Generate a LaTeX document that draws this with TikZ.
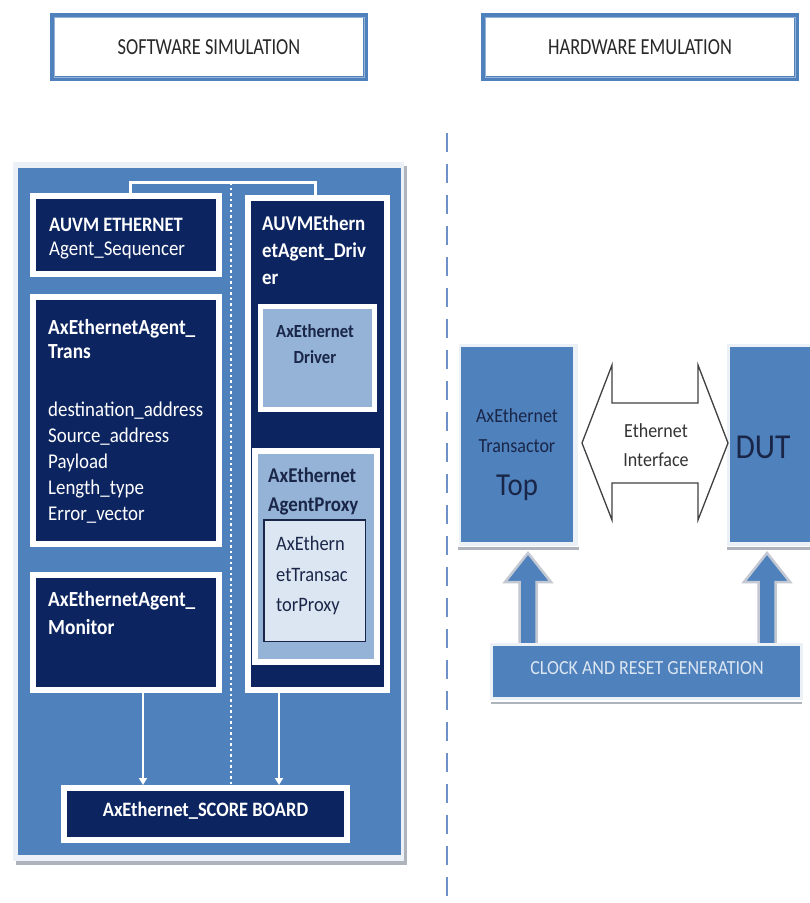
\documentclass[tikz,border=0pt]{standalone}
\usepackage{fontspec}
\setmainfont{Carlito}[FakeStretch=0.9]
\newfontfamily\condfont{Carlito}[FakeStretch=0.8]
\usetikzlibrary{arrows.meta}
\definecolor{pblue}{RGB}{79,129,189}
\definecolor{navy}{RGB}{12,36,96}
\definecolor{lblue}{RGB}{149,179,215}
\definecolor{vlblue}{RGB}{220,230,242}
\definecolor{dtext}{RGB}{25,38,72}
\definecolor{dashc}{RGB}{110,145,200}
\definecolor{shadowc}{RGB}{175,180,188}
\definecolor{tgrey}{RGB}{40,40,40}
\definecolor{frame}{RGB}{236,241,248}
\definecolor{arrline}{RGB}{195,200,210}
\newcommand\fsz[1]{\fontsize{#1}{#1}\selectfont}
\begin{document}
\begin{tikzpicture}[x=1pt,y=-1pt,
  titlebox/.style={draw=pblue, line width=5pt, fill=white, inner sep=0pt, minimum width=313pt, minimum height=63pt},
  navybox/.style={fill=navy, draw=white, line width=6pt, inner sep=0pt},
  lightbox/.style={fill=lblue, draw=white, line width=5pt, inner sep=0pt},
  bluebox/.style={fill=pblue, inner sep=0pt},
  wl/.style={inner sep=0pt, anchor=base west, text=white, font=\fsz{21}},
  wb/.style={inner sep=0pt, anchor=base west, text=white, font=\bfseries\fsz{21.5}},
  dl/.style={inner sep=0pt, anchor=base, text=dtext, font=\fsz{20}},
  blockarr/.style={fill=pblue, draw=arrline, line width=2.5pt, line join=miter},
  wire/.style={white, line width=2pt}
]
\useasboundingbox (0,0) rectangle (810,903);
\fill[white] (0,0) rectangle (810,903);

% titles
\node[titlebox] (swt) at (209,47) {};
\draw[lblue, line width=1pt] ([shift={(4,4)}]swt.north west) rectangle ([shift={(-4,-4)}]swt.south east);
\node[inner sep=0pt, text=tgrey, font=\condfont\fsz{23}] (swtxt) at (swt.center) {SOFTWARE SIMULATION};
\node[titlebox] (hwt) at (640,47) {};
\draw[lblue, line width=1pt] ([shift={(4,4)}]hwt.north west) rectangle ([shift={(-4,-4)}]hwt.south east);
\node[inner sep=0pt, text=tgrey, font=\condfont\fsz{23}] (hwtxt) at (hwt.center) {HARDWARE EMULATION};

% divider
\coordinate (dv1) at (447,133);
\coordinate (dv2) at (447,897);
\draw[dashc, line width=2pt, dash pattern=on 19pt off 12pt] (dv1) -- (dv2);

% left panel
\fill[shadowc] (16,166) rectangle (407,865);
\fill[frame] (13,162) rectangle (404,861);
\node[bluebox, minimum width=383pt, minimum height=687pt] (panel) at (209.5,511.5) {};

\node[navybox, minimum width=186pt, minimum height=78pt] (seq) at (125.5,235) {};
\node[navybox, minimum width=186pt, minimum height=247pt] (trans) at (125.5,420.5) {};
\node[navybox, minimum width=186pt, minimum height=115pt] (mon) at (125.5,632.5) {};
\node[navybox, minimum width=139pt, minimum height=492pt] (drv) at (317.5,444) {};
\node[lightbox, minimum width=114pt, minimum height=103pt] (drvin) at (317.5,358) {};
\node[lightbox, line width=6pt, minimum width=122pt, minimum height=211pt] (proxy) at (316,556.5) {};
\node[fill=vlblue, draw=dtext, line width=1.5pt, inner sep=0pt, minimum width=101.5pt, minimum height=121.5pt] (tproxy) at (314.5,580.5) {};
\node[navybox, minimum width=283pt, minimum height=52pt] (sb) at (205.5,814) {};

% bracket, dotted line, arrows
\coordinate (bl) at (130,182);
\coordinate (br) at (315,182);
\draw[white, line width=3pt] (seq.north -| bl) -- (bl) -- (br) -- (drv.north -| br);
\coordinate (dt) at (231,182);
\draw[white, line width=2.5pt, dash pattern=on 2.5pt off 3pt] (dt) -- (dt |- sb.north);
\coordinate (m1) at (143,700);
\coordinate (m2) at (279,700);
\draw[wire, -{Triangle[width=8pt,length=7pt]}] (mon.south -| m1) -- (sb.north -| m1);
\draw[wire, -{Triangle[width=8pt,length=7pt]}] (drv.south -| m2) -- (sb.north -| m2);

% left texts
\node[wb, font=\bfseries\fsz{20.5}] (t1) at (49,231) {AUVM ETHERNET};
\node[wl] (t2) at (49,255) {Agent\_Sequencer};
\node[wb] (t3) at (48,334) {AxEthernetAgent\_};
\node[wb] (t4) at (48,358) {Trans};
\node[wl] (t5) at (48,416) {destination\_address};
\node[wl] (t6) at (48,442) {Source\_address};
\node[wl] (t7) at (48,468) {Payload};
\node[wl] (t8) at (48,494) {Length\_type};
\node[wl] (t9) at (48,520) {Error\_vector};
\node[wb] (t10) at (48,606) {AxEthernetAgent\_};
\node[wb] (t11) at (48,634) {Monitor};
\node[wb, font=\bfseries\fsz{21}] (t12) at (262,230) {AUVMEthern};
\node[wb, font=\bfseries\fsz{21}] (t13) at (262,257) {etAgent\_Driv};
\node[wb, font=\bfseries\fsz{21}] (t14) at (262,284) {er};
\node[dl, font=\bfseries\fsz{18.5}] (t15) at (315,337) {AxEthernet};
\node[dl, font=\bfseries\fsz{18.5}] (t16) at (315,363) {Driver};
\node[wb, text=dtext, font=\bfseries\fsz{21}] (t17) at (268,482) {AxEthernet};
\node[wb, text=dtext, font=\bfseries\fsz{21}] (t18) at (268,511) {AgentProxy};
\node[wl, text=dtext, font=\fsz{20.5}] (t19) at (276,550) {AxEthern};
\node[wl, text=dtext, font=\fsz{20.5}] (t20) at (276,581) {etTransac};
\node[wl, text=dtext, font=\fsz{20.5}] (t21) at (276,611) {torProxy};
\node[inner sep=0pt, anchor=base, text=white, font=\bfseries\fsz{20.5}] (t22) at (205.5,816) {AxEthernet\_SCORE BOARD};

% right side boxes
\fill[frame] (459,344) rectangle (578,546);
\draw[shadowc, line width=3pt] (458,548) -- (579,548);
\node[bluebox, minimum width=112pt, minimum height=195pt] (top) at (517,444.5) {};
\fill[frame] (727,344) rectangle (810,546);
\draw[shadowc, line width=3pt] (727,548) -- (810,548);
\node[bluebox, minimum width=81pt, minimum height=195pt] (dut) at (770.5,444.5) {};
\node[dl] (t23) at (517,422) {AxEthernet};
\node[dl] (t24) at (517,452) {Transactor};
\node[dl, font=\fsz{32}] (t25) at (517,495) {Top};
\node[dl, font=\fsz{35}] (t26) at (763,458) {DUT};

% ethernet interface double arrow
\coordinate (ea) at (582,443);
\draw[draw=black!75, line width=1.3pt, fill=white, line join=miter]
  (ea) -- ++(30,-78) -- ++(0,38) -- ++(86,0) -- ++(0,-38) -- ++(30,78)
  -- ++(-30,77) -- ++(0,-37) -- ++(-86,0) -- ++(0,37) -- cycle;
\node[dl, text=black!80] (t27) at (656,437) {Ethernet};
\node[dl, text=black!80] (t28) at (656,466) {Interface};

% clock block arrows
\coordinate (ua) at (528,553);
\coordinate (ub) at (767,553);
\draw[blockarr] (ua) -- ++(23,29) -- ++(-14.5,0) -- ++(0,66) -- ++(-17,0) -- ++(0,-66) -- ++(-14.5,0) -- cycle;
\draw[blockarr] (ub) -- ++(23,29) -- ++(-14.5,0) -- ++(0,66) -- ++(-17,0) -- ++(0,-66) -- ++(-14.5,0) -- cycle;

% clock box
\fill[frame] (490,643) rectangle (803,700);
\draw[shadowc, line width=2.5pt] (491,703) -- (802,703);
\node[bluebox, minimum width=307pt, minimum height=51pt] (clk) at (646.5,671) {};
\node[dl, text=vlblue] (t29) at (647,674.5) {CLOCK AND RESET GENERATION};
\end{tikzpicture}
\end{document}
